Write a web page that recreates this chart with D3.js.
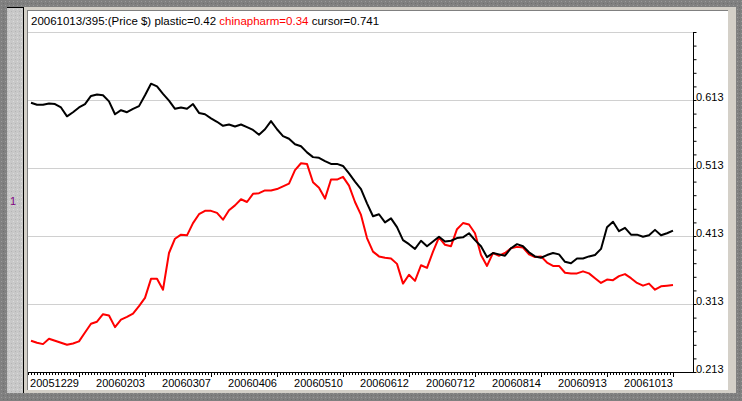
<!DOCTYPE html>
<html><head><meta charset="utf-8">
<script src="https://cdn.jsdelivr.net/npm/d3@7"></script>
<style>html,body{margin:0;padding:0;background:#808080;}svg{display:block;}</style>
</head><body>
<script>
// ---- data (bar index step 2, from bar 1 to bar 215) ----
const startBar = 1, barStep = 2, lastBar = 215;
const plastic = [0.609,0.606,0.606,0.608,0.607,0.602,0.589,0.595,0.602,0.607,
0.619,0.621,0.620,0.611,0.592,0.598,0.595,0.600,0.604,0.620,
0.637,0.633,0.622,0.612,0.600,0.602,0.600,0.607,0.594,0.592,
0.586,0.581,0.575,0.577,0.574,0.577,0.573,0.569,0.562,0.570,
0.582,0.570,0.560,0.556,0.548,0.545,0.536,0.529,0.528,0.523,
0.519,0.519,0.516,0.505,0.493,0.482,0.461,0.442,0.445,0.433,
0.439,0.426,0.407,0.401,0.394,0.406,0.398,0.405,0.412,0.405,
0.406,0.410,0.411,0.417,0.407,0.398,0.382,0.388,0.386,0.384,
0.395,0.401,0.398,0.389,0.383,0.381,0.385,0.388,0.386,0.375,
0.373,0.380,0.380,0.383,0.385,0.394,0.426,0.434,0.420,0.425,
0.415,0.415,0.412,0.414,0.422,0.414,0.417,0.421];
const chinapharm = [0.259,0.256,0.254,0.262,0.259,0.256,0.253,0.255,0.258,0.271,
0.284,0.287,0.298,0.296,0.279,0.290,0.294,0.299,0.310,0.322,
0.350,0.350,0.334,0.388,0.409,0.415,0.414,0.432,0.445,0.450,
0.450,0.447,0.437,0.451,0.458,0.467,0.463,0.475,0.476,0.480,
0.480,0.482,0.486,0.490,0.510,0.520,0.519,0.492,0.484,0.468,
0.496,0.496,0.500,0.487,0.463,0.444,0.410,0.390,0.383,0.381,
0.380,0.372,0.343,0.356,0.347,0.370,0.366,0.390,0.411,0.400,
0.398,0.423,0.432,0.430,0.417,0.385,0.369,0.388,0.384,0.388,
0.395,0.397,0.396,0.386,0.382,0.383,0.374,0.369,0.369,0.359,
0.358,0.358,0.361,0.358,0.351,0.344,0.349,0.348,0.354,0.357,
0.351,0.344,0.340,0.343,0.334,0.339,0.340,0.341];
const xTickBars = [17,39,61,83,105,127,149,171,193,215];
const xTickLabels = ["20051229","20060203","20060307","20060406","20060510","20060612","20060712","20060814","20060913","20061013"];
const yTicks = [0.213,0.313,0.413,0.513,0.613];
const yGrid = [0.313,0.413,0.513,0.613,0.713];

const W = 742, H = 401;
const svg = d3.select("body").append("svg").attr("width", W).attr("height", H)
  .style("font-family", "'Liberation Sans', Arial, sans-serif");

// dotted backgrounds
const defs = svg.append("defs");
const pd = defs.append("pattern").attr("id","dotsDark").attr("width",4).attr("height",4).attr("patternUnits","userSpaceOnUse");
pd.append("rect").attr("width",4).attr("height",4).attr("fill","#808080");
pd.append("rect").attr("x",1).attr("y",1).attr("width",1).attr("height",1).attr("fill","#9a9a9a");
pd.append("rect").attr("x",3).attr("y",3).attr("width",1).attr("height",1).attr("fill","#6e6e6e");
const pl = defs.append("pattern").attr("id","dotsLight").attr("width",4).attr("height",4).attr("patternUnits","userSpaceOnUse");
pl.append("rect").attr("width",4).attr("height",4).attr("fill","#c8c8c8");
pl.append("rect").attr("x",1).attr("y",1).attr("width",1).attr("height",1).attr("fill","#dcdcdc");
pl.append("rect").attr("x",3).attr("y",3).attr("width",1).attr("height",1).attr("fill","#b4b4b4");

svg.append("rect").attr("width",W).attr("height",H).attr("fill","url(#dotsDark)");
// left strip
svg.append("rect").attr("x",7).attr("y",7).attr("width",16).attr("height",386).attr("fill","url(#dotsLight)");
svg.append("line").attr("x1",7).attr("x2",24).attr("y1",7.5).attr("y2",7.5).attr("stroke","#000");
svg.append("line").attr("x1",23.5).attr("x2",23.5).attr("y1",7).attr("y2",393).attr("stroke","#000");
svg.append("text").attr("x",10).attr("y",205).attr("font-size",11).attr("fill","#800080").text("1");

// main panel
svg.append("rect").attr("x",24).attr("y",7).attr("width",712).attr("height",386).attr("fill","#d4d0c8");
svg.append("rect").attr("x",27).attr("y",10).attr("width",701).attr("height",380).attr("fill","#fff");
svg.append("line").attr("x1",27).attr("x2",728).attr("y1",10.5).attr("y2",10.5).attr("stroke","#808080");
svg.append("line").attr("x1",27.5).attr("x2",27.5).attr("y1",10).attr("y2",390).attr("stroke","#808080");

// scales
const x = d3.scaleLinear().domain([0, lastBar]).range([28, 673]);
const y = d3.scaleLinear().domain([0.213, 0.713]).range([372, 32]);

// grid
svg.append("g").selectAll("line").data(yGrid).join("line")
  .attr("x1",28).attr("x2",693).attr("y1",d=>Math.round(y(d))+0.5).attr("y2",d=>Math.round(y(d))+0.5)
  .attr("stroke","#d0d0d0");

// right axis
const yAxis = d3.axisRight(y).tickValues(d3.range(0.213, 0.7131, 0.02)).tickSize(3).tickFormat("");
const gy = svg.append("g").attr("transform","translate(693.5,0)").call(yAxis);
gy.select(".domain").attr("stroke","#000").attr("d","M0,32V372");
gy.selectAll(".tick line").attr("stroke","#000");
svg.append("g").selectAll("text").data(yTicks).join("text")
  .attr("x",696).attr("y",d=> y(d)+1).attr("font-size",11).attr("fill","#000")
  .text(d=>d.toFixed(3));

// bottom axis
svg.append("line").attr("x1",28).attr("x2",694).attr("y1",372.5).attr("y2",372.5).attr("stroke","#000");
const bars = d3.range(0, lastBar+1);
svg.append("g").selectAll("line").data(bars).join("line")
  .attr("x1",d=>Math.round(x(d))+0.5).attr("x2",d=>Math.round(x(d))+0.5)
  .attr("y1",372).attr("y2",375).attr("stroke","#000");
svg.append("g").selectAll("line").data(xTickBars).join("line")
  .attr("x1",d=>Math.round(x(d))+0.5).attr("x2",d=>Math.round(x(d))+0.5)
  .attr("y1",372).attr("y2",377).attr("stroke","#000");
svg.append("g").selectAll("text").data(xTickBars).join("text")
  .attr("x",d=>x(d)).attr("y",387).attr("text-anchor","end").attr("font-size",11).attr("fill","#000")
  .text((d,i)=>xTickLabels[i]);

// lines
const line = d3.line().x((d,i)=>x(startBar + i*barStep)).y(d=>y(d));
const plot = svg.append("g");
plot.append("path").datum(chinapharm).attr("d",line).attr("fill","none").attr("stroke","#ff0000").attr("stroke-width",2).attr("stroke-linejoin","round");
plot.append("path").datum(plastic).attr("d",line).attr("fill","none").attr("stroke","#000").attr("stroke-width",2).attr("stroke-linejoin","round");

// header
const hdr = svg.append("text").attr("x",31).attr("y",25).attr("font-size",11.5);
hdr.append("tspan").attr("fill","#000").text("20061013/395:(Price $) plastic=0.42 ");
hdr.append("tspan").attr("fill","#ff0000").text("chinapharm=0.34");
hdr.append("tspan").attr("fill","#000").text(" cursor=0.741");
</script>
</body></html>
